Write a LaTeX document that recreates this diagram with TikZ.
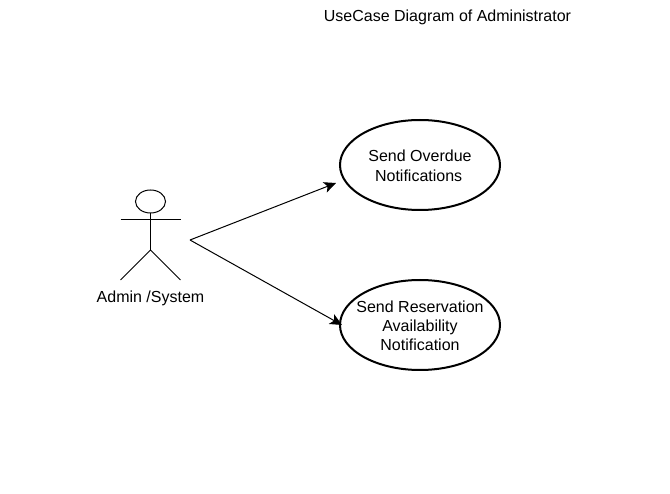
\documentclass[tikz,border=0pt]{standalone}
\usepackage{fontspec}
\setmainfont{Liberation Sans}
\usetikzlibrary{arrows.meta,shapes.geometric}
\newcommand{\lowered}[1]{\raisebox{-1pt}[\height][\depth]{#1}}
\begin{document}
\begin{tikzpicture}[x=1pt,y=-1pt,
    usecase/.style={draw,ellipse,line width=2pt,minimum width=160pt,minimum height=90pt,inner sep=0pt,align=center,font=\fontsize{16}{19}\selectfont},
    caption/.style={inner sep=0pt,font=\fontsize{16}{19}\selectfont},
    limb/.style={line width=1pt},
    link/.style={-{Stealth[length=12pt,width=11pt,inset=3pt]},line width=1pt}]
  \useasboundingbox (0,0) rectangle (670,494);

  \node[caption] (title) at (447.5,17) {UseCase Diagram of Administrator};

  \node[usecase] (overdue) at (420,165) {\lowered{Send Overdue}\\[1pt]\lowered{Notifications\,}};
  \node[usecase] (reserve) at (420,325) {\lowered{\makebox[70pt]{Send Reservation}}\\\lowered{Availability}\\\lowered{Notification}};

  % actor
  \node[draw,ellipse,minimum width=30pt,minimum height=23pt,inner sep=0pt,limb] (head) at (150.5,201.5) {};
  \coordinate (hip) at (150.5,250);
  \coordinate (armL) at (120.5,220);
  \coordinate (armR) at (180.5,220);
  \coordinate (footL) at (120.5,280);
  \coordinate (footR) at (180.5,280);
  \draw[limb] (head) -- (hip);
  \draw[limb] (armL) -- (armR);
  \draw[limb] (footL) -- (hip) -- (footR);
  \node[caption] (admin) at (150.5,298) {Admin /System};

  \coordinate (from) at (190,240);
  \coordinate (toA) at (336,183);
  \coordinate (toB) at (342,325);
  \draw[link] (from) -- (toA);
  \draw[link] (from) -- (toB);
\end{tikzpicture}
\end{document}
